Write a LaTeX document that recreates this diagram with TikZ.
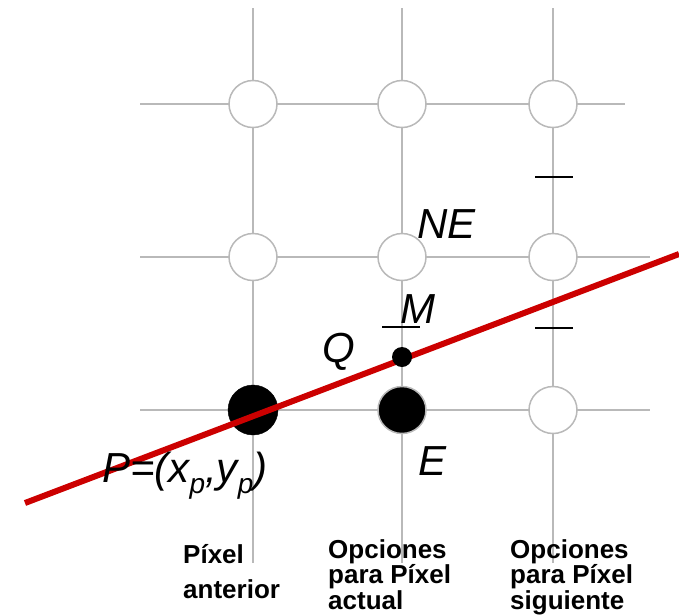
\documentclass[tikz,border=0pt]{standalone}
\usepackage{fontspec}
\setmainfont{Liberation Sans}
\usetikzlibrary{shapes.geometric}
\definecolor{gris}{RGB}{185,185,185}
\definecolor{rojo}{RGB}{204,0,0}
\newcommand{\subp}{\raisebox{-0.28em}{\fontsize{28}{28}\selectfont p}}
\tikzset{
	rejilla/.style={draw=gris, line width=1.5pt},
	pixel/.style={ellipse, draw=gris, line width=1.5pt, fill=white, minimum width=48pt, minimum height=47pt, inner sep=0pt},
	pixel on/.style={pixel, fill=black},
	marca/.style={draw=black, line width=1.5pt},
	etiqueta/.style={inner sep=0pt, anchor=base west, font=\fontsize{42}{42}\selectfont\itshape},
	rotulo/.style={inner sep=0pt, anchor=base west, align=left, font=\fontsize{26}{23}\selectfont\bfseries}
}

\begin{document}
\begin{tikzpicture}[x=1pt, y=-1pt]
	\useasboundingbox (0,0) rectangle (679,614);
	
	\foreach \i/\x in {1/253, 2/402, 3/553} {
		\coordinate (arriba-\i) at (\x, 8);
		\coordinate (abajo-\i) at (\x, 563);
		\draw[rejilla] (arriba-\i) -- (abajo-\i);
	}
	\foreach \j/\y/\d in {1/104/625, 2/257/650, 3/410/650} {
		\coordinate (izq-\j) at (140, \y);
		\coordinate (der-\j) at (\d, \y);
		\draw[rejilla] (izq-\j) -- (der-\j);
	}
	
	\foreach \i/\x in {1/253, 2/402, 3/553}
		\foreach \j/\y in {1/104, 2/257}
			\node[pixel] (p-\i-\j) at (\x, \y) {};
	\node[pixel] (p-3-3) at (553, 410) {};
	\node[pixel on] (E) at (402, 410) {};
	\node[circle, fill=black, draw=black, minimum size=50pt, inner sep=0pt] (P) at (253, 410) {};
	
	\coordinate (ini) at (25, 503);
	\coordinate (fin) at (679, 254);
	\draw[rojo, line width=6pt] (ini) -- (fin);
	\node[circle, fill=black, minimum size=20pt, inner sep=0pt] (Q) at (402, 357) {};
	
	\draw[marca] (382, 327) coordinate (m-a) -- (420, 327) coordinate (m-b);
	\draw[marca] (535, 177) coordinate (t-a) -- (573, 177) coordinate (t-b);
	\draw[marca] (535, 328) coordinate (u-a) -- (573, 328) coordinate (u-b);
	
	\node[etiqueta] (NE-lbl) at (417, 238) {NE};
	\node[etiqueta] (M-lbl) at (400, 323) {M};
	\node[etiqueta] (Q-lbl) at (322, 362) {Q};
	\node[etiqueta] (E-lbl) at (418, 475) {E};
	\node[etiqueta] (P-lbl) at (102, 482) {P=(x\subp,y\subp)};
	
	\node[rotulo] (anterior) at (183, 598) {Píxel\\[12pt]anterior};
	\node[rotulo] (actual) at (328, 609) {Opciones\\para Píxel\\actual};
	\node[rotulo] (siguiente) at (510, 609) {Opciones\\para Píxel\\siguiente};
\end{tikzpicture}
\end{document}
